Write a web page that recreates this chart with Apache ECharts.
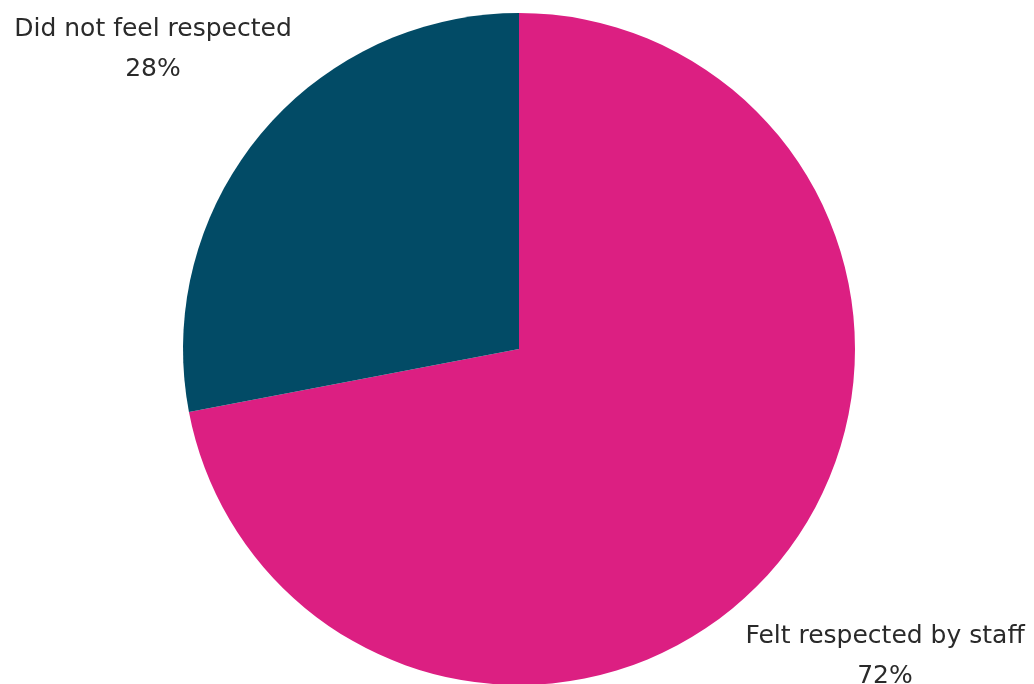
<!DOCTYPE html>
<html>
<head>
<meta charset="utf-8">
<script src="https://cdn.jsdelivr.net/npm/echarts@6/dist/echarts.min.js"></script>
<style>html,body{margin:0;padding:0;background:#fff;}#c{width:1034px;height:684px;}</style>
</head>
<body>
<div id="c"></div>
<script>
const categories = ["Felt respected by staff", "Did not feel respected"];
const values = [72, 28];
const colors = ["#DC1F82", "#024B66"];

const labelSpots = [[885, 656], [153, 49]];

const chart = echarts.init(document.getElementById('c'), null, {renderer: 'canvas'});
chart.setOption({
  animation: false,
  backgroundColor: '#ffffff',
  series: [{
    type: 'pie',
    center: [519, 349],
    radius: [0, 336],
    startAngle: 90,
    clockwise: true,
    data: categories.map((n, i) => ({name: n, value: values[i], itemStyle: {color: colors[i]}})),
    label: {
      show: true,
      position: 'outside',
      formatter: '{b}\n{c}%',
      fontFamily: 'DejaVu Sans',
      fontSize: 25,
      lineHeight: 40,
      color: '#2a2a2a',
      align: 'center',
      overflow: 'none'
    },
    labelLine: {show: false},
    labelLayout: function (p) {
      const s = labelSpots[p.dataIndex];
      return {x: s[0], y: s[1], align: 'center', verticalAlign: 'middle', width: 400};
    },
    emphasis: {disabled: true}
  }]
});
</script>
</body>
</html>
